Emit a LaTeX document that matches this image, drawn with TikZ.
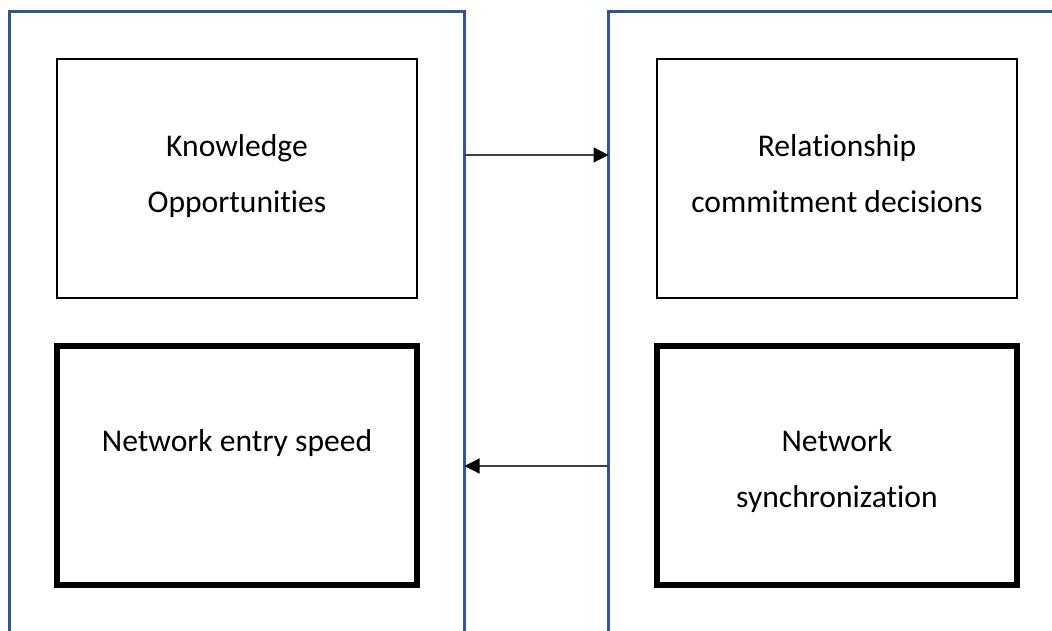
\documentclass[tikz,border=0pt]{standalone}
\usepackage{fontspec}
\setmainfont{Carlito}[Ligatures={NoCommon,NoContextual}]
\usetikzlibrary{arrows.meta}
\definecolor{panelblue}{HTML}{2F5597}
\definecolor{linkgray}{HTML}{404040}
\tikzset{
  panel/.style={draw=panelblue, line width=3pt, rectangle, inner sep=0pt, outer sep=0pt,
    anchor=north west, minimum width=455pt, minimum height=700pt},
  thinbox/.style={draw=black, line width=1.6pt, rectangle, inner sep=0pt, outer sep=0pt,
    anchor=north west, minimum width=360pt, minimum height=239pt},
  thickbox/.style={draw=black, line width=6.5pt, rectangle, inner sep=0pt, outer sep=0pt,
    anchor=north west, minimum width=360pt, minimum height=239pt},
  boxtext/.style={anchor=base, align=center, inner sep=0pt,
    font=\fontsize{31.6pt}{56pt}\selectfont},
  link/.style={draw=linkgray, line width=1.2pt,
    -{Triangle[length=15pt, width=15pt, color=black]}}
}
\begin{document}
\begin{tikzpicture}[x=1pt, y=-1pt]
  \useasboundingbox (0,0) rectangle (1052,631);
  \clip (0,0) rectangle (1052,631);

  % two tall panels running past the lower and right edges
  \node[panel] (lpanel) at (9.5,12) {};
  \node[panel, minimum width=600pt] (rpanel) at (608.5,12) {};

  % upper boxes (thin outline)
  \node[thinbox] (kbox) at (57,59) {};
  \node[thinbox] (rbox) at (657,59) {};
  % lower boxes (heavy outline)
  \node[thickbox] (ebox) at (57,346) {};
  \node[thickbox] (sbox) at (657,346) {};

  % box labels (anchored on the baseline of the last line)
  \node[boxtext] (ktext) at (237,213) {Knowledge\\Opportunities};
  \node[boxtext] (rtext) at (837,213) {Relationship\\commitment decisions};
  \node[boxtext] (etext) at (237,451) {Network entry speed};
  \node[boxtext] (stext) at (837,507) {Network\\synchronization};

  % links between the panels
  \coordinate (up) at (0,155);
  \coordinate (down) at (0,466);
  \draw[link] (lpanel.east |- up) -- (rpanel.west |- up);
  \draw[link] (rpanel.west |- down) -- (lpanel.east |- down);
\end{tikzpicture}
\end{document}
